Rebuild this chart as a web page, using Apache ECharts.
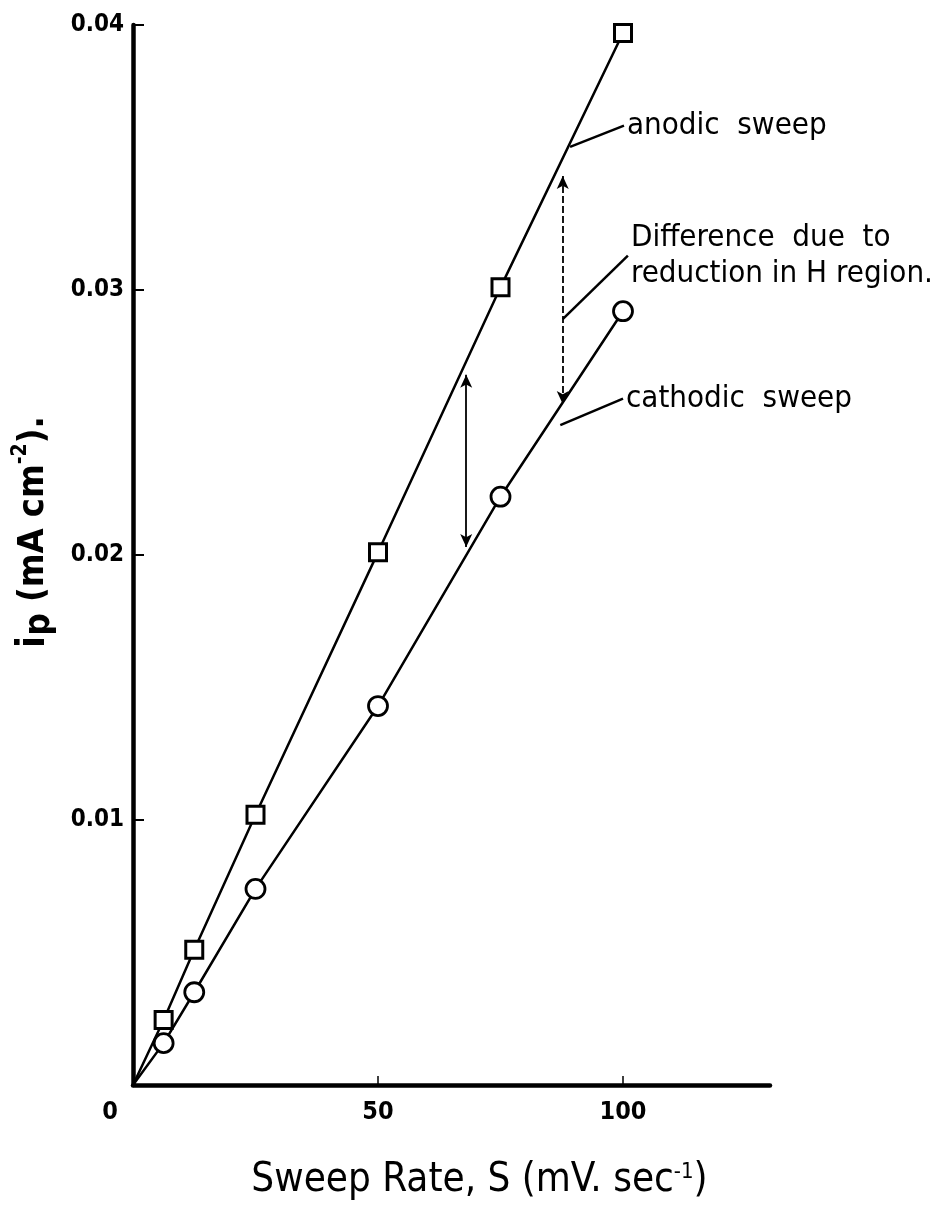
<!DOCTYPE html>
<html>
<head>
<meta charset="utf-8">
<script src="https://cdn.jsdelivr.net/npm/echarts@6/dist/echarts.min.js"></script>
<style>
html,body{margin:0;padding:0;background:#fff;}
#chart{width:946px;height:1222px;}
</style>
</head>
<body>
<div id="chart"></div>
<script>
// ---- data ----
var sweepRates = [0, 6.25, 12.5, 25, 50, 75, 100];
var anodicPeak = [0, 0.00245, 0.0051, 0.0102, 0.0201, 0.0301, 0.0397];
var cathodicPeak = [0, 0.00158, 0.0035, 0.0074, 0.0143, 0.0222, 0.0292];

var xTickValues = [0, 50, 100];
var yTickValues = [0.01, 0.02, 0.03, 0.04];

// annotation arrows (data coords): [x, yTop, yBottom]
var arrowSolid = [68, 0.0268, 0.0203];
var arrowDashed = [87.7, 0.0343, 0.0257];

// leader lines: [[x1,y1],[x2,y2]] and texts
var anodicLeader = [[89.2, 0.0354], [100.2, 0.0362]];
var diffLeader = [[87.7, 0.0289], [101.0, 0.0313]];
var cathodicLeader = [[87.2, 0.0249], [100.0, 0.0259]];
var anodicText = 'anodic  sweep';
var diffText = 'Difference  due  to\nreduction in H region.';
var cathodicText = 'cathodic  sweep';

function withOrigin(xs, ys) {
  return xs.map(function (x, i) {
    var item = { value: [x, ys[i]] };
    if (x === 0) item.symbol = 'none';
    return item;
  });
}

var annFont = '"DejaVu Sans Condensed", "DejaVu Sans", sans-serif';

function leaderSeries(pts, text) {
  return {
    type: 'line',
    data: pts,
    symbol: 'none',
    silent: true,
    lineStyle: { color: '#000', width: 2.5 },
    endLabel: {
      show: true,
      formatter: text,
      color: '#000',
      fontFamily: annFont,
      fontSize: 31,
      lineHeight: 36,
      distance: 3,
      align: 'left',
      verticalAlign: 'middle'
    },
    z: 3
  };
}

var chart = echarts.init(document.getElementById('chart'), null, { renderer: 'canvas' });
chart.setOption({
  animation: false,
  backgroundColor: '#fff',
  grid: { left: 133, right: 176, top: 25, bottom: 137, containLabel: false, outerBoundsMode: 'none' },
  xAxis: {
    type: 'value',
    min: 0,
    max: 130,
    interval: 50,
    splitLine: { show: false },
    axisLine: { show: true, onZero: false, lineStyle: { color: '#000', width: 4.5 } },
    axisTick: { show: true, inside: true, length: 9, customValues: xTickValues, lineStyle: { color: '#000', width: 1.5 } },
    axisLabel: {
      customValues: xTickValues,
      margin: 15,
      color: '#000',
      fontFamily: annFont,
      fontWeight: 'bold',
      fontSize: 25,
      formatter: function (v) { return v === 0 ? '{z|0}' : String(v); },
      rich: { z: { padding: [0, 46, 0, 0], fontFamily: annFont, fontWeight: 'bold', fontSize: 25, color: '#000' } }
    },
    name: 'Sweep Rate, S (mV. sec{sup|-1})',
    nameLocation: 'middle',
    nameGap: 76,
    nameTextStyle: {
      color: '#000',
      fontFamily: annFont,
      fontSize: 40,
      padding: [0, 0, 0, 56],
      rich: { sup: { fontSize: 22, verticalAlign: 'top', padding: [0, 0, 18, 0], fontFamily: annFont, color: '#000' } }
    }
  },
  yAxis: {
    type: 'value',
    min: 0,
    max: 0.04,
    interval: 0.01,
    splitLine: { show: false },
    axisLine: { show: true, onZero: false, lineStyle: { color: '#000', width: 4.5 } },
    axisTick: { show: true, inside: true, length: 11, customValues: yTickValues, lineStyle: { color: '#000', width: 2 } },
    axisLabel: {
      customValues: yTickValues,
      margin: 9,
      color: '#000',
      fontFamily: annFont,
      fontWeight: 'bold',
      fontSize: 24,
      formatter: function (v) { return v.toFixed(2); }
    },
    name: '{i|i}{sub|p} (mA cm{sup|-2}).',
    nameLocation: 'middle',
    nameRotate: 90,
    nameGap: 76,
    nameTextStyle: {
      color: '#000',
      fontFamily: annFont,
      fontWeight: 'bold',
      fontSize: 36,
      padding: [0, 0, 0, 46],
      rich: {
        i: { fontSize: 39, fontWeight: 'bold', fontFamily: annFont, color: '#000' },
        sub: { fontSize: 35, fontWeight: 'bold', fontFamily: annFont, color: '#000', padding: [12, 0, 0, 0], verticalAlign: 'bottom' },
        sup: { fontSize: 21, fontWeight: 'bold', fontFamily: annFont, color: '#000', verticalAlign: 'top', padding: [0, 0, 14, 0] }
      }
    }
  },
  series: [
    {
      name: 'anodic sweep',
      type: 'line',
      data: withOrigin(sweepRates, anodicPeak),
      symbol: 'rect',
      symbolSize: 17,
      showAllSymbol: true,
      itemStyle: { color: '#fff', borderColor: '#000', borderWidth: 3 },
      lineStyle: { color: '#000', width: 2.5 },
      z: 4
    },
    {
      name: 'cathodic sweep',
      type: 'line',
      data: withOrigin(sweepRates, cathodicPeak),
      symbol: 'circle',
      symbolSize: 19,
      showAllSymbol: true,
      itemStyle: { color: '#fff', borderColor: '#000', borderWidth: 2.8 },
      lineStyle: { color: '#000', width: 2.5 },
      z: 4
    },
    leaderSeries(anodicLeader, anodicText),
    leaderSeries(diffLeader, diffText),
    leaderSeries(cathodicLeader, cathodicText),
    {
      type: 'line',
      data: [],
      silent: true,
      markLine: {
        silent: true,
        animation: false,
        symbol: ['arrow', 'arrow'],
        symbolSize: [9, 13],
        label: { show: false },
        data: [
          [{ coord: [arrowSolid[0], arrowSolid[1]], lineStyle: { type: 'solid', color: '#000', width: 1.8 } },
           { coord: [arrowSolid[0], arrowSolid[2]] }],
          [{ coord: [arrowDashed[0], arrowDashed[1]], lineStyle: { type: [7, 3], color: '#000', width: 1.8 } },
           { coord: [arrowDashed[0], arrowDashed[2]] }]
        ]
      }
    }
  ]
});
</script>
</body>
</html>
